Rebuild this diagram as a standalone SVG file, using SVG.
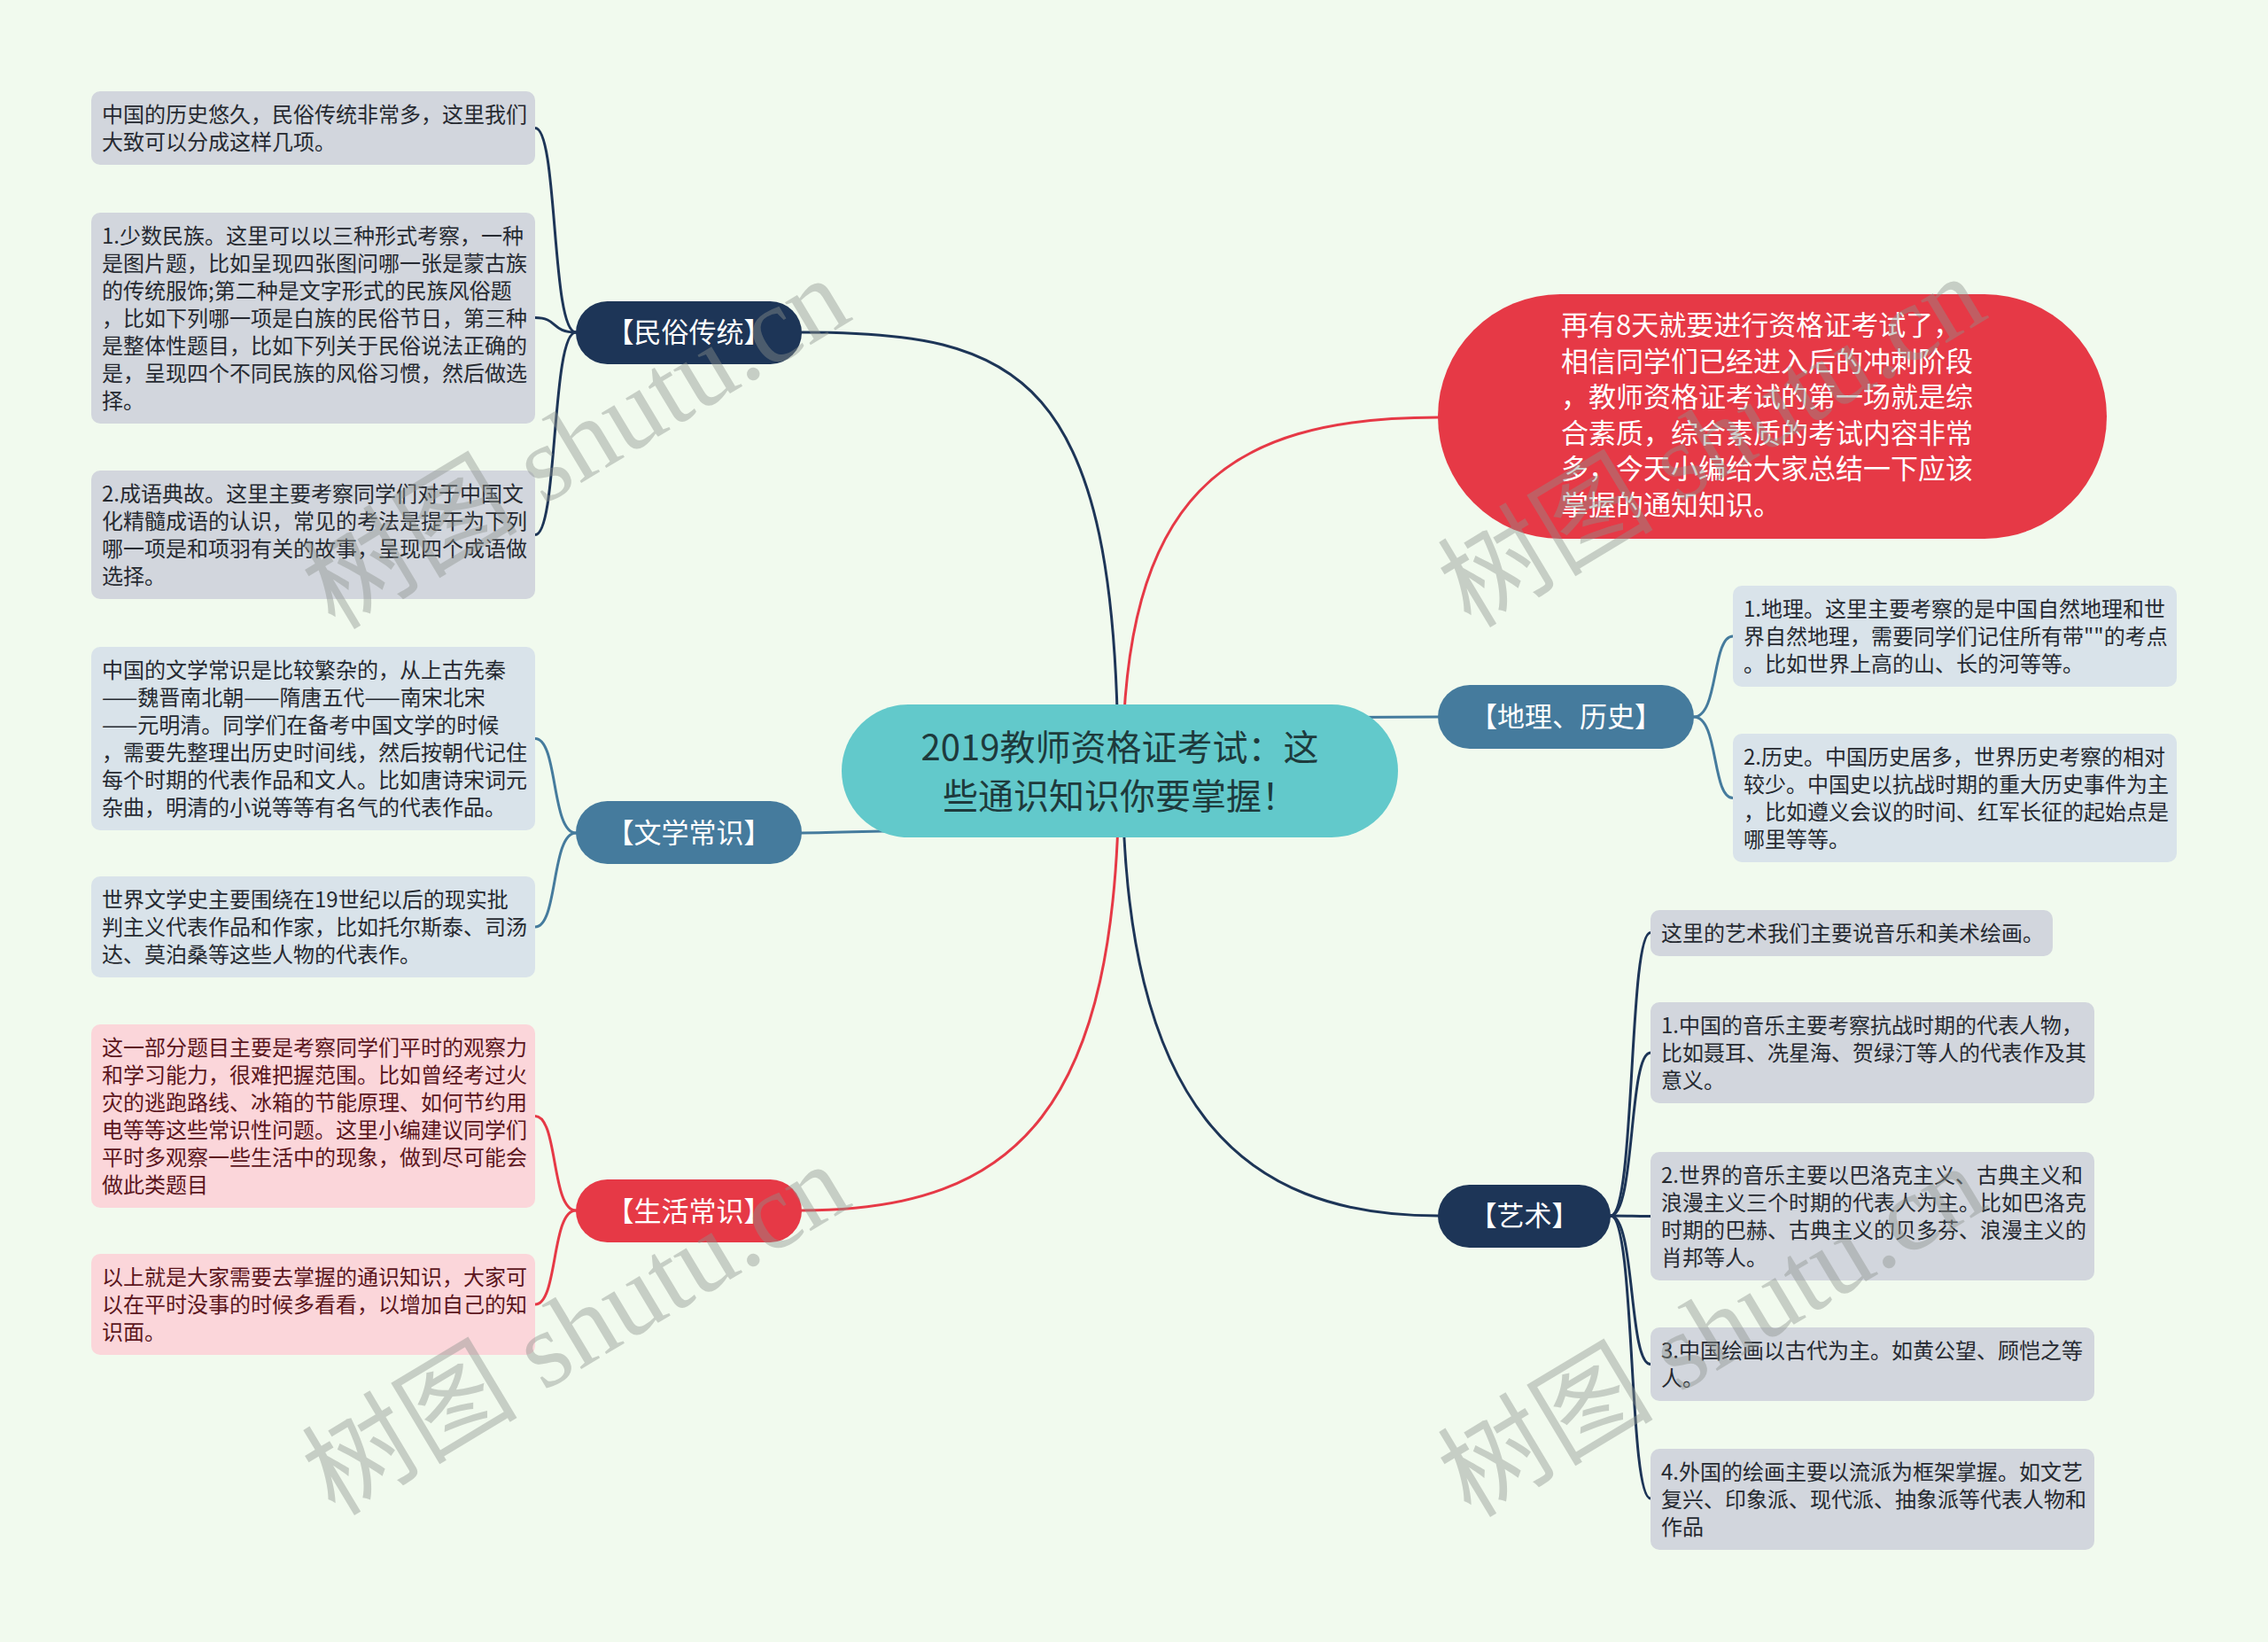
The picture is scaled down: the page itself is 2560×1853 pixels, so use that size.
<svg xmlns="http://www.w3.org/2000/svg" width="2560" height="1853" viewBox="0 0 2560 1853">
<style>
.t{font-family:"Noto Sans CJK SC","Noto Sans",sans-serif}
.lt{font-size:24px;fill:#262a31}
.ltr{font-size:24px;fill:#5c161d}
.l1{font-size:31px;fill:#ffffff;text-anchor:middle}
.cn{fill:none;stroke-width:3;stroke-linecap:round}
.navy{stroke:#1d3557}
.blue{stroke:#457b9d}
.red{stroke:#e63946}
.lfN{fill:#d2d6dd}
.lfB{fill:#d9e3ea}
.lfR{fill:#fbd6da}
.wm{font-family:"Liberation Serif","Noto Sans CJK SC",serif;font-size:122px;fill:#8d938d;opacity:0.42}
</style>
<rect x="0" y="0" width="2560" height="1853" fill="#f1faee"/>

<g id="connectors">
  <path class="cn navy" d="M1262 870 C1262 420 1150 375 905 375"/>
  <path class="cn red" d="M1267 870 C1267 560 1380 471 1623 471"/>
  <path class="cn navy" d="M1267 870 C1267 1250 1400 1372 1623 1372"/>
  <path class="cn red" d="M1263 870 C1263 1250 1150 1366 905 1366"/>
  <path class="cn blue" d="M1100 936 C1000 937 950 940 905 940"/>
  <path class="cn blue" d="M1450 810 L1623 809"/>

  <path class="cn navy" d="M650 375 C622 375 630 144.5 604 144.5"/>
  <path class="cn navy" d="M650 375 C622 375 630 358.5 604 358.5"/>
  <path class="cn navy" d="M650 375 C622 375 630 603.5 604 603.5"/>

  <path class="cn blue" d="M650 940 C622 940 630 833.5 604 833.5"/>
  <path class="cn blue" d="M650 940 C622 940 630 1046 604 1046"/>

  <path class="cn red" d="M650 1366 C622 1366 630 1259.5 604 1259.5"/>
  <path class="cn red" d="M650 1366 C622 1366 630 1472 604 1472"/>

  <path class="cn blue" d="M1912 809 C1940 809 1932 718 1956 718"/>
  <path class="cn blue" d="M1912 809 C1940 809 1932 900.5 1956 900.5"/>

  <path class="cn navy" d="M1818 1372 C1846 1372 1838 1052.5 1863 1052.5"/>
  <path class="cn navy" d="M1818 1372 C1846 1372 1838 1188 1863 1188"/>
  <path class="cn navy" d="M1818 1372 C1846 1372 1838 1372.5 1863 1372.5"/>
  <path class="cn navy" d="M1818 1372 C1846 1372 1838 1539.5 1863 1539.5"/>
  <path class="cn navy" d="M1818 1372 C1846 1372 1838 1691 1863 1691"/>
</g>

<g id="root">
  <rect x="950" y="795" width="628" height="150" rx="75" fill="#62c9cb"/>
  <text class="t" x="1264" y="858" font-size="40" fill="#1e3a3c" text-anchor="middle">2019教师资格证考试：这</text>
  <text class="t" x="1264" y="913" font-size="40" fill="#1e3a3c" text-anchor="middle">些通识知识你要掌握！</text>
</g>

<g id="intro">
  <rect x="1623" y="332" width="755" height="276" rx="138" fill="#e63946"/>
  <g class="t" font-size="31" fill="#ffffff">
    <text x="1762" y="378">再有8天就要进行资格证考试了，</text>
    <text x="1762" y="419">相信同学们已经进入后的冲刺阶段</text>
    <text x="1762" y="459">，教师资格证考试的第一场就是综</text>
    <text x="1762" y="500">合素质，综合素质的考试内容非常</text>
    <text x="1762" y="540">多，今天小编给大家总结一下应该</text>
    <text x="1762" y="581">掌握的通知知识。</text>
  </g>
</g>

<g id="minsu">
  <rect x="650" y="340" width="255" height="71" rx="35.5" fill="#1d3557"/>
  <text class="t l1" x="777.5" y="386">【民俗传统】</text>
</g>
<g id="wenxue">
  <rect x="650" y="904" width="255" height="71" rx="35.5" fill="#457b9d"/>
  <text class="t l1" x="777.5" y="951">【文学常识】</text>
</g>
<g id="shenghuo">
  <rect x="650" y="1331" width="255" height="71" rx="35.5" fill="#e63946"/>
  <text class="t l1" x="777.5" y="1378">【生活常识】</text>
</g>
<g id="dili">
  <rect x="1623" y="773" width="289" height="72" rx="36" fill="#457b9d"/>
  <text class="t l1" x="1767.5" y="820">【地理、历史】</text>
</g>
<g id="yishu">
  <rect x="1623" y="1337" width="195" height="71" rx="35.5" fill="#1d3557"/>
  <text class="t l1" x="1720.5" y="1383">【艺术】</text>
</g>

<g id="minsu-1">
  <rect class="lfN" x="103" y="103" width="501" height="83" rx="10"/>
  <g class="t lt"><text x="115" y="138">中国的历史悠久，民俗传统非常多，这里我们</text><text x="115" y="169">大致可以分成这样几项。</text></g>
</g>
<g id="minsu-2">
  <rect class="lfN" x="103" y="240" width="501" height="238" rx="10"/>
  <g class="t lt">
    <text x="115" y="275">1.少数民族。这里可以以三种形式考察，一种</text>
    <text x="115" y="306">是图片题，比如呈现四张图问哪一张是蒙古族</text>
    <text x="115" y="337">的传统服饰;第二种是文字形式的民族风俗题</text>
    <text x="115" y="368">，比如下列哪一项是白族的民俗节日，第三种</text>
    <text x="115" y="399">是整体性题目，比如下列关于民俗说法正确的</text>
    <text x="115" y="430">是，呈现四个不同民族的风俗习惯，然后做选</text>
    <text x="115" y="461">择。</text>
  </g>
</g>
<g id="minsu-3">
  <rect class="lfN" x="103" y="531" width="501" height="145" rx="10"/>
  <g class="t lt">
    <text x="115" y="566">2.成语典故。这里主要考察同学们对于中国文</text>
    <text x="115" y="597">化精髓成语的认识，常见的考法是提干为下列</text>
    <text x="115" y="628">哪一项是和项羽有关的故事，呈现四个成语做</text>
    <text x="115" y="659">选择。</text>
  </g>
</g>

<g id="wenxue-1">
  <rect class="lfB" x="103" y="730" width="501" height="207" rx="10"/>
  <g class="t lt">
    <text x="115" y="765">中国的文学常识是比较繁杂的，从上古先秦</text>
    <text x="115" y="796">——魏晋南北朝——隋唐五代——南宋北宋</text>
    <text x="115" y="827">——元明清。同学们在备考中国文学的时候</text>
    <text x="115" y="858">，需要先整理出历史时间线，然后按朝代记住</text>
    <text x="115" y="889">每个时期的代表作品和文人。比如唐诗宋词元</text>
    <text x="115" y="920">杂曲，明清的小说等等有名气的代表作品。</text>
  </g>
</g>
<g id="wenxue-2">
  <rect class="lfB" x="103" y="989" width="501" height="114" rx="10"/>
  <g class="t lt">
    <text x="115" y="1024">世界文学史主要围绕在19世纪以后的现实批</text>
    <text x="115" y="1055">判主义代表作品和作家，比如托尔斯泰、司汤</text>
    <text x="115" y="1086">达、莫泊桑等这些人物的代表作。</text>
  </g>
</g>

<g id="shenghuo-1">
  <rect class="lfR" x="103" y="1156" width="501" height="207" rx="10"/>
  <g class="t ltr">
    <text x="115" y="1191">这一部分题目主要是考察同学们平时的观察力</text>
    <text x="115" y="1222">和学习能力，很难把握范围。比如曾经考过火</text>
    <text x="115" y="1253">灾的逃跑路线、冰箱的节能原理、如何节约用</text>
    <text x="115" y="1284">电等等这些常识性问题。这里小编建议同学们</text>
    <text x="115" y="1315">平时多观察一些生活中的现象，做到尽可能会</text>
    <text x="115" y="1346">做此类题目</text>
  </g>
</g>
<g id="shenghuo-2">
  <rect class="lfR" x="103" y="1415" width="501" height="114" rx="10"/>
  <g class="t ltr">
    <text x="115" y="1450">以上就是大家需要去掌握的通识知识，大家可</text>
    <text x="115" y="1481">以在平时没事的时候多看看，以增加自己的知</text>
    <text x="115" y="1512">识面。</text>
  </g>
</g>

<g id="dili-1">
  <rect class="lfB" x="1956" y="661" width="501" height="114" rx="10"/>
  <g class="t lt">
    <text x="1968" y="696">1.地理。这里主要考察的是中国自然地理和世</text>
    <text x="1968" y="727">界自然地理，需要同学们记住所有带&quot;&quot;的考点</text>
    <text x="1968" y="758">。比如世界上高的山、长的河等等。</text>
  </g>
</g>
<g id="dili-2">
  <rect class="lfB" x="1956" y="828" width="501" height="145" rx="10"/>
  <g class="t lt">
    <text x="1968" y="863">2.历史。中国历史居多，世界历史考察的相对</text>
    <text x="1968" y="894">较少。中国史以抗战时期的重大历史事件为主</text>
    <text x="1968" y="925">，比如遵义会议的时间、红军长征的起始点是</text>
    <text x="1968" y="956">哪里等等。</text>
  </g>
</g>

<g id="yishu-0">
  <rect class="lfN" x="1863" y="1027" width="454" height="52" rx="10"/>
  <text class="t lt" x="1875" y="1062">这里的艺术我们主要说音乐和美术绘画。</text>
</g>
<g id="yishu-1">
  <rect class="lfN" x="1863" y="1131" width="501" height="114" rx="10"/>
  <g class="t lt">
    <text x="1875" y="1166">1.中国的音乐主要考察抗战时期的代表人物，</text>
    <text x="1875" y="1197">比如聂耳、冼星海、贺绿汀等人的代表作及其</text>
    <text x="1875" y="1228">意义。</text>
  </g>
</g>
<g id="yishu-2">
  <rect class="lfN" x="1863" y="1300" width="501" height="145" rx="10"/>
  <g class="t lt">
    <text x="1875" y="1335">2.世界的音乐主要以巴洛克主义、古典主义和</text>
    <text x="1875" y="1366">浪漫主义三个时期的代表人为主。比如巴洛克</text>
    <text x="1875" y="1397">时期的巴赫、古典主义的贝多芬、浪漫主义的</text>
    <text x="1875" y="1428">肖邦等人。</text>
  </g>
</g>
<g id="yishu-3">
  <rect class="lfN" x="1863" y="1498" width="501" height="83" rx="10"/>
  <g class="t lt">
    <text x="1875" y="1533">3.中国绘画以古代为主。如黄公望、顾恺之等</text>
    <text x="1875" y="1564">人。</text>
  </g>
</g>
<g id="yishu-4">
  <rect class="lfN" x="1863" y="1635" width="501" height="114" rx="10"/>
  <g class="t lt">
    <text x="1875" y="1670">4.外国的绘画主要以流派为框架掌握。如文艺</text>
    <text x="1875" y="1701">复兴、印象派、现代派、抽象派等代表人物和</text>
    <text x="1875" y="1732">作品</text>
  </g>
</g>

<g id="watermark">
  <text class="wm" transform="translate(378 712) rotate(-31)">树图 shutu.cn</text>
  <text class="wm" transform="translate(1660 710) rotate(-31)">树图 shutu.cn</text>
  <text class="wm" transform="translate(378 1712) rotate(-31)">树图 shutu.cn</text>
  <text class="wm" transform="translate(1660 1714) rotate(-31)">树图 shutu.cn</text>
</g>
</svg>
